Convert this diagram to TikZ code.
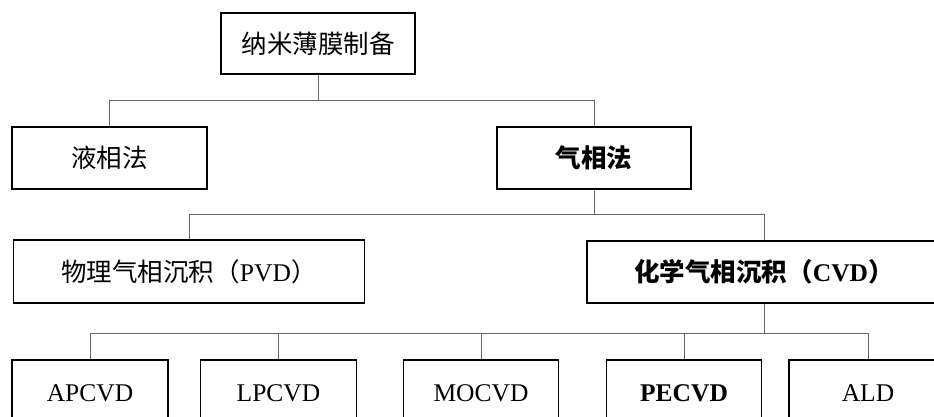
\documentclass[tikz,border=0pt]{standalone}
\usepackage{fontspec}
\setmainfont{Liberation Serif}
\newfontfamily\cjk{Noto Sans CJK SC}
\begin{document}
\begin{tikzpicture}[x=1pt,y=-1pt,
  box/.style={draw=black,line width=1.6pt,fill=white,inner sep=0pt,anchor=center,font=\fontsize{25.5}{28}\selectfont},
  link/.style={draw=black!60,line width=0.9pt}]
\useasboundingbox (0,0) rectangle (934,416);
\clip (0,0) rectangle (934,416);
% level 1
\node[box,minimum width=194pt,minimum height=61pt] (root) at (318,43.5) {\cjk 纳米薄膜制备};
% level 2
\node[box,minimum width=195pt,minimum height=62pt] (liq) at (109.5,158) {\cjk 液相法};
\node[box,minimum width=194pt,minimum height=62pt] (gas) at (594,158) {\cjk\bfseries 气相法};
% level 3
\node[box,minimum width=351pt,minimum height=63pt] (pvd) at (189,271.5) {\cjk 物理气相沉积（\rmfamily PVD\cjk ）};
\node[box,minimum width=354pt,minimum height=62pt] (cvd) at (764,272) {\bfseries\cjk 化学气相沉积（\rmfamily CVD\cjk ）};
% level 4
\node[box,minimum width=156pt,minimum height=66pt] (ap) at (90,393) {APCVD};
\node[box,minimum width=156pt,minimum height=66pt] (lp) at (278.5,393) {LPCVD};
\node[box,minimum width=155pt,minimum height=66pt] (mo) at (481,393) {MOCVD};
\node[box,minimum width=155pt,minimum height=66pt] (pe) at (684,393) {\bfseries PECVD};
\node[box,minimum width=158pt,minimum height=66pt] (ald) at (868,393) {ALD};
% connectors
\coordinate (j1) at (318,100);
\coordinate (j2) at (594,214);
\coordinate (j3) at (764,333);
\draw[link] (root.south) -- (j1);
\draw[link] (j1) -| (liq.north);
\draw[link] (j1) -| (gas.north);
\draw[link] (gas.south) -- (j2);
\draw[link] (j2) -| (pvd.north);
\draw[link] (j2) -| (cvd.north);
\draw[link] (cvd.south) -- (j3);
\draw[link] (j3) -| (ap.north);
\draw[link] (j3) -| (lp.north);
\draw[link] (j3) -| (mo.north);
\draw[link] (j3) -| (pe.north);
\draw[link] (j3) -| (ald.north);
\end{tikzpicture}
\end{document}
